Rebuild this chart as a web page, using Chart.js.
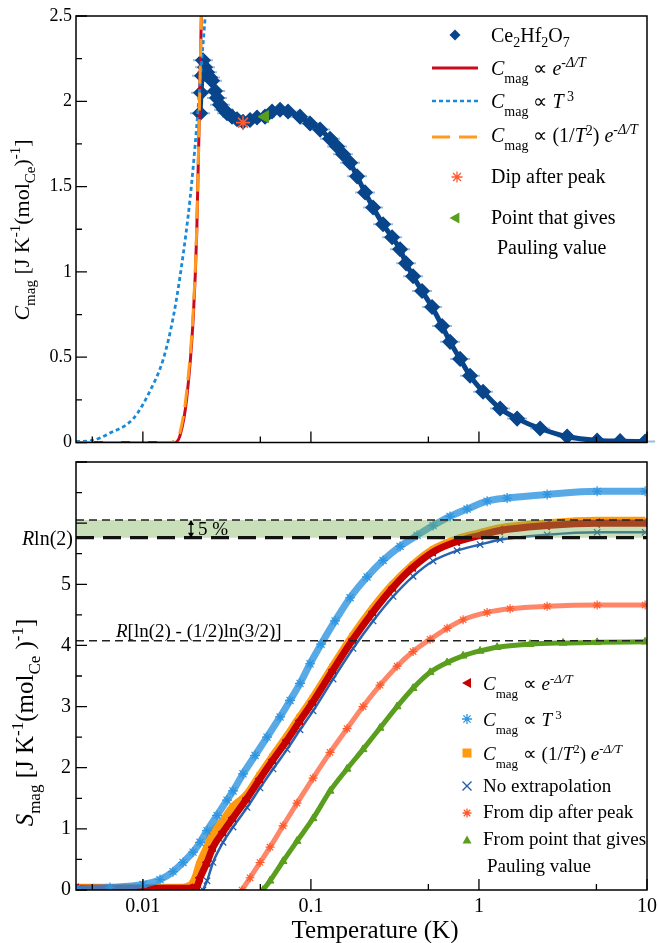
<!DOCTYPE html>
<html><head><meta charset="utf-8">
<script src="https://cdn.jsdelivr.net/npm/chart.js@4.4.1/dist/chart.umd.min.js"></script>
<style>
html,body{margin:0;padding:0;background:#fff;}
#wrap{position:relative;width:658px;height:943px;overflow:hidden;}
#c1{position:absolute;left:0;top:0;}
#c2{position:absolute;left:0;top:452px;}
</style></head><body>
<div id="wrap">
<canvas id="c1" width="658" height="452"></canvas>
<canvas id="c2" width="658" height="491"></canvas>
</div>
<script>
// ---------- data ----------
// top panel: Ce2Hf2O7 magnetic specific heat
const ceT = [0.0219,0.02218,0.02249,0.0228,0.02344,0.02409,0.0251,0.0258,0.02689,0.02762,0.02878,0.03041,0.03168,0.03393,0.03634,0.03945,0.04342,0.0478,0.05333,0.05871,0.06552,0.0731,0.08614,0.09883,0.1134,0.13,0.1431,0.1553,0.171,0.1882,0.21,0.2344,0.2688,0.3041,0.3394,0.3684,0.4055,0.4586,0.526,0.6034,0.6733,0.7722,0.8856,1.058,1.336,1.687,2.312,3.347,5.049,6.92,9.748];
const ceC = [1.93,2.05,2.15,2.24,2.20,2.17,2.14,2.12,2.06,2.02,1.98,1.95,1.93,1.91,1.895,1.88,1.89,1.905,1.91,1.94,1.95,1.94,1.91,1.87,1.834,1.78,1.735,1.69,1.64,1.56,1.466,1.378,1.279,1.203,1.133,1.05,0.975,0.888,0.794,0.683,0.59,0.49,0.391,0.298,0.199,0.14,0.082,0.035,0.012,0.008,0.006];
// fits (top panel)
const fitExpT = [0.004,0.0155,0.01663,0.01823,0.01996,0.02092,0.02168,0.02228,0.0227];
const fitExpC = [0,0,0.04,0.257,0.74,1.23,1.93,2.5,2.9];
const fitT3T = [0.004,0.005,0.00637,0.00877,0.011,0.01324,0.0152,0.01702,0.0191,0.0209,0.0224,0.0235,0.0245];
const fitT3C = [0.006,0.012,0.055,0.14,0.30,0.49,0.74,1.04,1.43,1.85,2.24,2.5,2.8];
const fitT2T = [0.004,0.0145,0.0155,0.01663,0.01823,0.01996,0.02092,0.02168,0.02228,0.0227];
const fitT2C = [0,0,0.012,0.06,0.30,0.78,1.26,1.95,2.5,2.9];
const dipPoint = {T:0.03945, C:1.875};
const paulingPoint = {T:0.05333, C:1.91};

// bottom panel: magnetic entropy
const sExpT = [0.004,0.01908,0.021,0.02189,0.02409,0.02615,0.03,0.0344,0.04168,0.0498,0.05952,0.07211,0.08614,0.103,0.1355,0.1781,0.2344,0.3083,0.4055,0.5333,0.741,1.016,1.336,2.545,5.049,9.748];
const sExpS = [0.03,0.03,0.06,0.2,0.45,0.70,0.95,1.18,1.50,1.82,2.13,2.45,2.77,3.08,3.60,4.10,4.55,4.95,5.28,5.53,5.70,5.80,5.88,5.96,6.00,6.00];
const sT3T = [0.004,0.00637,0.01002,0.01265,0.01511,0.01733,0.01988,0.02189,0.02409,0.02762,0.03168,0.0344,0.03945,0.0465,0.05482,0.06552,0.07513,0.08614,0.09883,0.1149,0.1392,0.171,0.2158,0.2688,0.3394,0.4283,0.5333,0.6733,0.85,1.118,1.471,2.545,5.049,9.748];
const sT3S = [0.02,0.04,0.09,0.17,0.30,0.45,0.62,0.78,0.97,1.22,1.47,1.62,1.90,2.20,2.50,2.83,3.10,3.38,3.70,4.02,4.40,4.78,5.12,5.39,5.62,5.80,5.96,6.11,6.23,6.36,6.41,6.47,6.52,6.52];
const sT2T = [0.004,0.01733,0.01908,0.01988,0.021,0.02189,0.02409,0.02615,0.03,0.0344,0.04168,0.0498,0.05952,0.07211,0.08614,0.103,0.1355,0.1781,0.2344,0.3083,0.4055,0.5333,0.741,1.016,1.336,2.545,5.049,9.748];
const sT2S = [0.03,0.03,0.06,0.10,0.25,0.42,0.68,0.93,1.12,1.35,1.55,1.87,2.18,2.50,2.82,3.13,3.65,4.15,4.60,4.99,5.31,5.56,5.73,5.83,5.91,5.99,6.03,6.03];
const sNoT = [0.0228,0.02409,0.02615,0.03,0.0344,0.04168,0.0498,0.05952,0.07211,0.08614,0.103,0.1355,0.1781,0.2344,0.3083,0.4055,0.5333,0.741,1.016,1.336,2.545,5.049,9.748];
const sNoS = [0,0.15,0.45,0.78,1.03,1.35,1.67,1.98,2.30,2.62,2.93,3.45,3.95,4.40,4.80,5.13,5.38,5.55,5.65,5.73,5.81,5.85,5.85];
const sDipT = [0.03892,0.04342,0.0498,0.05713,0.06826,0.08268,0.103,0.13,0.1641,0.2043,0.2579,0.3257,0.4055,0.5118,0.6461,0.8045,1.118,1.532,2.545,5.049,9.748];
const sDipS = [0,0.2,0.45,0.7,1.05,1.42,1.83,2.25,2.64,3.0,3.35,3.66,3.90,4.10,4.28,4.42,4.54,4.60,4.64,4.66,4.66];
const sPaulT = [0.05189,0.05713,0.06826,0.08268,0.103,0.13,0.1641,0.2043,0.2579,0.3257,0.4055,0.5118,0.6461,0.8045,1.016,1.282,2.015,3.168,5.049,9.748];
const sPaulS = [0,0.15,0.47,0.80,1.17,1.62,1.98,2.30,2.65,3.0,3.30,3.56,3.72,3.83,3.91,3.97,4.02,4.04,4.05,4.06];

// reference levels
const R_LN2 = 5.763;
const R_LN2_5PCT = 6.051;
const R_PAULING = 4.077;

// ticks
const X_RANGE = [0.004, 10];
const X_MAJOR = [0.01, 0.1, 1, 10];
const X_MINOR = [0.005, 0.05, 0.5, 5];
const X_LABELS = ['0.01', '0.1', '1', '10'];
const TOP_Y_MAJOR = [0, 0.5, 1, 1.5, 2, 2.5];
const TOP_Y_MINOR = [0.25, 0.75, 1.25, 1.75, 2.25];
const BOT_Y_MAJOR = [0, 1, 2, 3, 4, 5, 6, 7];
const BOT_Y_MINOR = [0.5, 1.5, 2.5, 3.5, 4.5, 5.5, 6.5];
const BOT_Y_LABELS = ['0', '1', '2', '3', '4', '5'];

// ---------- helpers ----------
const SERIF = '"Liberation Serif", "Times New Roman", serif';
const F = (size, it) => (it ? 'italic ' : '') + size + 'px ' + SERIF;
const pts = (xs, ys) => xs.map((x, i) => ({x: x, y: ys[i]}));

function segWidth(ctx, segs) {
  let w = 0;
  for (const s of segs) { ctx.font = s.f; w += ctx.measureText(s.t).width; }
  return w;
}
function drawSegs(ctx, segs, x, y, align) {
  const w = segWidth(ctx, segs);
  let cx = align === 'center' ? x - w / 2 : (align === 'right' ? x - w : x);
  ctx.textAlign = 'left'; ctx.textBaseline = 'alphabetic';
  for (const s of segs) {
    ctx.font = s.f;
    ctx.fillText(s.t, cx, y + (s.dy || 0));
    cx += ctx.measureText(s.t).width;
  }
}
function marker(ctx, type, x, y, r, color) {
  ctx.save();
  ctx.fillStyle = color; ctx.strokeStyle = color; ctx.lineWidth = 1.3;
  ctx.beginPath();
  if (type === 'diamond') {
    ctx.moveTo(x, y - r); ctx.lineTo(x + r, y); ctx.lineTo(x, y + r); ctx.lineTo(x - r, y); ctx.closePath(); ctx.fill();
  } else if (type === 'triLeft') {
    ctx.moveTo(x - r, y); ctx.lineTo(x + r * 0.8, y - r); ctx.lineTo(x + r * 0.8, y + r); ctx.closePath(); ctx.fill();
  } else if (type === 'triUp') {
    ctx.moveTo(x, y - r); ctx.lineTo(x + r, y + r * 0.8); ctx.lineTo(x - r, y + r * 0.8); ctx.closePath(); ctx.fill();
  } else if (type === 'square') {
    ctx.rect(x - r, y - r, 2 * r, 2 * r); ctx.fill();
  } else if (type === 'x') {
    ctx.moveTo(x - r, y - r); ctx.lineTo(x + r, y + r); ctx.moveTo(x + r, y - r); ctx.lineTo(x - r, y + r); ctx.stroke();
  } else if (type === 'star') {
    ctx.moveTo(x - r, y); ctx.lineTo(x + r, y); ctx.moveTo(x, y - r); ctx.lineTo(x, y + r);
    const d = r * 0.72;
    ctx.moveTo(x - d, y - d); ctx.lineTo(x + d, y + d); ctx.moveTo(x + d, y - d); ctx.lineTo(x - d, y + d); ctx.stroke();
  }
  ctx.restore();
}
function frameAndTicks(chart, yMaj, yMin) {
  const ctx = chart.ctx, a = chart.chartArea, xs = chart.scales.x, ys = chart.scales.y;
  ctx.save();
  ctx.strokeStyle = '#000'; ctx.lineWidth = 1.5;
  ctx.strokeRect(a.left, a.top, a.right - a.left, a.bottom - a.top);
  ctx.lineWidth = 1.3;
  ctx.beginPath();
  X_MAJOR.forEach(v => { const p = xs.getPixelForValue(v); ctx.moveTo(p, a.bottom); ctx.lineTo(p, a.bottom - 11); });
  X_MINOR.forEach(v => { const p = xs.getPixelForValue(v); ctx.moveTo(p, a.bottom); ctx.lineTo(p, a.bottom - 6); });
  yMaj.forEach(v => { const p = ys.getPixelForValue(v); ctx.moveTo(a.left, p); ctx.lineTo(a.left + 11, p); });
  yMin.forEach(v => { const p = ys.getPixelForValue(v); ctx.moveTo(a.left, p); ctx.lineTo(a.left + 6, p); });
  ctx.stroke();
  ctx.restore();
}
const cmag = (b, s) => [{t: 'C', f: F(b, 1)}, {t: 'mag', f: F(s), dy: Math.round(b * 0.4)}, {t: ' \u221D ', f: F(b)}];
const expPart = (b, s) => [{t: 'e', f: F(b, 1)}, {t: '-\u0394/T', f: F(s, 1), dy: -Math.round(b * 0.38)}];

// ---------- top chart ----------
const topDeco = {
  id: 'topDeco',
  beforeDatasetsDraw(chart) {
    const ctx = chart.ctx, meta = chart.getDatasetMeta(5);
    ctx.save();
    ctx.strokeStyle = 'rgba(120,165,215,0.75)'; ctx.lineWidth = 2;
    ctx.beginPath();
    meta.data.forEach(p => { ctx.moveTo(p.x - 10, p.y); ctx.lineTo(p.x + 10, p.y); });
    ctx.stroke();
    ctx.restore();
  },
  afterDraw(chart) {
    const ctx = chart.ctx;
    frameAndTicks(chart, TOP_Y_MAJOR, TOP_Y_MINOR);
    ctx.save();
    ctx.fillStyle = '#000';
    // y title
    ctx.save();
    ctx.translate(29, 230); ctx.rotate(-Math.PI / 2);
    drawSegs(ctx, [{t: 'C', f: F(22, 1)}, {t: 'mag', f: F(15), dy: 6}, {t: ' [J K', f: F(22)}, {t: '-1', f: F(15), dy: -9},
      {t: '(mol', f: F(22)}, {t: 'Ce', f: F(15), dy: 6}, {t: ')', f: F(22)}, {t: '-1', f: F(15), dy: -9}, {t: ']', f: F(22)}], 0, 0, 'center');
    ctx.restore();
    // legend
    const tx = 491, mx = 455;
    marker(ctx, 'diamond', mx, 35, 5.5, '#08458a');
    drawSegs(ctx, [{t: 'Ce', f: F(20)}, {t: '2', f: F(14), dy: 5}, {t: 'Hf', f: F(20)}, {t: '2', f: F(14), dy: 5}, {t: 'O', f: F(20)}, {t: '7', f: F(14), dy: 5}], tx, 42);
    const line = (y, color, dash, w) => { ctx.save(); ctx.strokeStyle = color; ctx.lineWidth = w; ctx.setLineDash(dash); ctx.beginPath(); ctx.moveTo(432, y); ctx.lineTo(478, y); ctx.stroke(); ctx.restore(); };
    line(68, '#cc0a1e', [], 3);
    drawSegs(ctx, cmag(20, 14).concat(expPart(20, 14)), tx, 75);
    line(101, '#1a8ad8', [4, 3], 2.5);
    drawSegs(ctx, cmag(20, 14).concat([{t: 'T', f: F(20, 1)}, {t: ' 3', f: F(14), dy: -7}]), tx, 108);
    line(137, '#ff9a1f', [18, 9], 3);
    drawSegs(ctx, cmag(20, 14).concat([{t: '(1/', f: F(20)}, {t: 'T', f: F(20, 1)}, {t: '2', f: F(14), dy: -7}, {t: ') ', f: F(20)}]).concat(expPart(20, 14)), tx, 142);
    marker(ctx, 'star', 457, 177, 5.5, '#ff5a30');
    drawSegs(ctx, [{t: 'Dip after peak', f: F(20)}], tx, 183);
    marker(ctx, 'triLeft', mx, 218, 5.5, '#5a9e1e');
    drawSegs(ctx, [{t: 'Point that gives', f: F(20)}], tx, 224);
    drawSegs(ctx, [{t: 'Pauling value', f: F(20)}], 497, 254);
    ctx.restore();
  }
};

const commonX = (bottom) => ({
  type: 'logarithmic', min: X_RANGE[0], max: X_RANGE[1], position: 'bottom',
  grid: {display: false, drawTicks: false}, border: {display: false},
  ticks: {display: bottom, font: {family: SERIF, size: 20}, color: '#000', padding: 5, autoSkip: false, maxRotation: 0,
    callback: (v) => { const i = X_MAJOR.indexOf(v); return i >= 0 ? X_LABELS[i] : ''; }},
  afterBuildTicks: (s) => { s.ticks = X_MAJOR.map(v => ({value: v})); },
  afterFit: (s) => { s.height = bottom ? 53 : 8; s.paddingLeft = 0; s.paddingRight = 0; s.paddingTop = 0; s.paddingBottom = 0; },
  title: {display: false}
});
const yFit = (s) => { s.width = 76; s.paddingTop = 0; s.paddingBottom = 0; s.paddingLeft = 0; s.paddingRight = 0; };

new Chart(document.getElementById('c1'), {
  type: 'scatter',
  data: {datasets: [
    {label: 'Dip after peak', data: [{x: dipPoint.T, y: dipPoint.C}], pointStyle: 'star', pointRadius: 7, pointBorderWidth: 1.6, borderColor: '#ff5a30', backgroundColor: '#ff5a30', order: 0},
    {label: 'Point that gives Pauling value', data: [{x: paulingPoint.T, y: paulingPoint.C}], pointStyle: 'triangle', rotation: -90, pointRadius: 7, borderColor: '#5a9e1e', backgroundColor: '#5a9e1e', order: 1},
    {label: 'Cmag ∝ (1/T²) e^-Δ/T', data: pts(fitT2T, fitT2C), showLine: true, pointRadius: 0, borderColor: '#ff9a1f', borderWidth: 3, borderDash: [18, 9], cubicInterpolationMode: 'monotone', order: 2},
    {label: 'Cmag ∝ T³', data: pts(fitT3T, fitT3C), showLine: true, pointRadius: 0, borderColor: '#1a8ad8', borderWidth: 2.8, borderDash: [4, 3], cubicInterpolationMode: 'monotone', order: 3},
    {label: 'Cmag ∝ e^-Δ/T', data: pts(fitExpT, fitExpC), showLine: true, pointRadius: 0, borderColor: '#cc0a1e', borderWidth: 3, cubicInterpolationMode: 'monotone', order: 4},
    {label: 'Ce2Hf2O7', data: pts(ceT, ceC), showLine: true, borderWidth: 5, borderColor: '#08458a', pointStyle: 'rectRot', pointRadius: 4.5, pointBackgroundColor: '#08458a', pointBorderColor: '#08458a', cubicInterpolationMode: 'monotone', order: 10}
  ]},
  options: {
    responsive: false, animation: false, events: [],
    layout: {padding: {top: 16, right: 11, left: 0, bottom: 0}},
    plugins: {legend: {display: false}, tooltip: {enabled: false}},
    scales: {
      x: commonX(false),
      y: {min: 0, max: 2.5, grid: {display: false, drawTicks: false}, border: {display: false},
        ticks: {stepSize: 0.5, font: {family: SERIF, size: 18}, color: '#000', padding: 4, callback: v => String(v)},
        afterFit: yFit}
    }
  },
  plugins: [topDeco]
});

// ---------- bottom chart ----------
const OFF = 452;
const botDeco = {
  id: 'botDeco',
  afterDraw(chart) {
    const ctx = chart.ctx, ys = chart.scales.y;
    frameAndTicks(chart, BOT_Y_MAJOR, BOT_Y_MINOR);
    ctx.save();
    ctx.fillStyle = '#000';
    // x title
    drawSegs(ctx, [{t: 'Temperature (K)', f: F(25)}], 375, 938 - OFF, 'center');
    // y title
    ctx.save();
    ctx.translate(33, 722.5 - OFF); ctx.rotate(-Math.PI / 2);
    drawSegs(ctx, [{t: 'S', f: F(25, 1)}, {t: 'mag', f: F(17), dy: 7}, {t: ' [J K', f: F(25)}, {t: '-1', f: F(17), dy: -10},
      {t: '(mol', f: F(25)}, {t: 'Ce', f: F(17), dy: 7}, {t: ' )', f: F(25)}, {t: '-1', f: F(17), dy: -10}, {t: ']', f: F(25)}], 0, 0, 'center');
    ctx.restore();
    // R ln(2) label on the axis
    const yR = ys.getPixelForValue(R_LN2), y5 = ys.getPixelForValue(R_LN2_5PCT), yP = ys.getPixelForValue(R_PAULING);
    drawSegs(ctx, [{t: 'R', f: F(20, 1)}, {t: 'ln(2)', f: F(20)}], 73, yR + 7, 'right');
    // Pauling label
    drawSegs(ctx, [{t: 'R', f: F(19, 1)}, {t: '[ln(2) - (1/2)ln(3/2)]', f: F(19)}], 116, yP - 4);
    // 5 % arrow + text
    ctx.save();
    ctx.strokeStyle = '#000'; ctx.lineWidth = 1.3;
    ctx.beginPath(); ctx.moveTo(191, y5 + 1); ctx.lineTo(191, yR - 1); ctx.stroke();
    ctx.beginPath();
    ctx.moveTo(191, y5); ctx.lineTo(188, y5 + 5); ctx.lineTo(194, y5 + 5); ctx.closePath();
    ctx.moveTo(191, yR); ctx.lineTo(188, yR - 5); ctx.lineTo(194, yR - 5); ctx.closePath();
    ctx.fill();
    ctx.restore();
    drawSegs(ctx, [{t: '5 %', f: F(19)}], 198, yR - 3);
    // legend
    const mx = 467, tx = 483;
    marker(ctx, 'triLeft', mx, 683 - OFF, 5, '#c40000');
    drawSegs(ctx, cmag(19, 13).concat(expPart(19, 13)), tx, 690 - OFF);
    marker(ctx, 'star', mx, 719 - OFF, 5, '#2e95e0');
    drawSegs(ctx, cmag(19, 13).concat([{t: 'T', f: F(19, 1)}, {t: ' 3', f: F(13), dy: -7}]), tx, 726 - OFF);
    marker(ctx, 'square', mx, 753 - OFF, 4.5, '#ff9a10');
    drawSegs(ctx, cmag(19, 13).concat([{t: '(1/', f: F(19)}, {t: 'T', f: F(19, 1)}, {t: '2', f: F(13), dy: -7}, {t: ') ', f: F(19)}]).concat(expPart(19, 13)), tx, 760 - OFF);
    marker(ctx, 'x', mx, 786 - OFF, 4.5, '#1d5aa8');
    drawSegs(ctx, [{t: 'No extrapolation', f: F(19)}], tx, 792 - OFF);
    marker(ctx, 'star', mx, 813 - OFF, 4.5, '#ff5a2e');
    drawSegs(ctx, [{t: 'From dip after peak', f: F(19)}], tx, 818 - OFF);
    marker(ctx, 'triUp', mx, 840 - OFF, 4.5, '#5a9e1e');
    drawSegs(ctx, [{t: 'From point that gives', f: F(19)}], tx, 845 - OFF);
    drawSegs(ctx, [{t: 'Pauling value', f: F(19)}], 487, 872 - OFF);
    ctx.restore();
  }
};

const hline = (v) => [{x: X_RANGE[0], y: v}, {x: X_RANGE[1], y: v}];
const curve = (label, xs, ys, color, lineColor, lw, style, r, rot, order, pbw) => ({
  label: label, data: pts(xs, ys), showLine: true, borderColor: lineColor, borderWidth: lw,
  pointStyle: style, pointRadius: r, rotation: rot || 0, pointBackgroundColor: color, pointBorderColor: color, pointBorderWidth: pbw || 1,
  cubicInterpolationMode: 'monotone', order: order
});

new Chart(document.getElementById('c2'), {
  type: 'scatter',
  data: {datasets: [
    {label: 'Pauling', data: hline(R_PAULING), showLine: true, pointRadius: 0, borderColor: '#222', borderWidth: 1.4, borderDash: [8, 5], order: 1},
    {label: '5%', data: hline(R_LN2_5PCT), showLine: true, pointRadius: 0, borderColor: '#222', borderWidth: 1.4, borderDash: [8, 5], order: 2},
    {label: 'Rln2', data: hline(R_LN2), showLine: true, pointRadius: 0, borderColor: '#111', borderWidth: 3.2, borderDash: [18, 9], order: 3},
    {label: 'bandLow', data: hline(R_LN2), showLine: true, pointRadius: 0, borderWidth: 0, borderColor: 'rgba(0,0,0,0)', order: 5},
    {label: 'bandHigh', data: hline(R_LN2_5PCT), showLine: true, pointRadius: 0, borderWidth: 0, borderColor: 'rgba(0,0,0,0)', fill: '-1', backgroundColor: 'rgba(117,175,80,0.4)', order: 4},
    curve('From dip after peak', sDipT, sDipS, '#ff5a2e', 'rgba(255,95,55,0.75)', 5, 'star', 4.5, 0, 7, 1.2),
    curve('From point that gives Pauling value', sPaulT, sPaulS, '#5a9e1e', '#5a9e1e', 5, 'triangle', 4.5, 0, 8),
    curve('Cmag ∝ T³', sT3T, sT3S, '#2e95e0', 'rgba(46,149,224,0.8)', 7, 'star', 5, 0, 9, 1.2),
    curve('Cmag ∝ e^-Δ/T', sExpT, sExpS, '#c40000', '#c40000', 7, 'triangle', 5, -90, 10),
    curve('Cmag ∝ (1/T²) e^-Δ/T', sT2T, sT2S, '#ff9a10', '#ff9a10', 9, 'rect', 4.5, 0, 11),
    curve('No extrapolation', sNoT, sNoS, '#1d5aa8', '#2a64b0', 2.5, 'crossRot', 4.5, 0, 12, 1.2)
  ]},
  options: {
    responsive: false, animation: false, events: [],
    layout: {padding: {top: 10, right: 11, left: 0, bottom: 0}},
    plugins: {legend: {display: false}, tooltip: {enabled: false}},
    scales: {
      x: commonX(true),
      y: {min: 0, max: 7, grid: {display: false, drawTicks: false}, border: {display: false},
        ticks: {stepSize: 1, font: {family: SERIF, size: 20}, color: '#000', padding: 5,
          callback: v => (v >= 0 && v <= 5 && Number.isInteger(v)) ? BOT_Y_LABELS[v] : ''},
        afterFit: yFit}
    }
  },
  plugins: [botDeco]
});
</script>
</body></html>
